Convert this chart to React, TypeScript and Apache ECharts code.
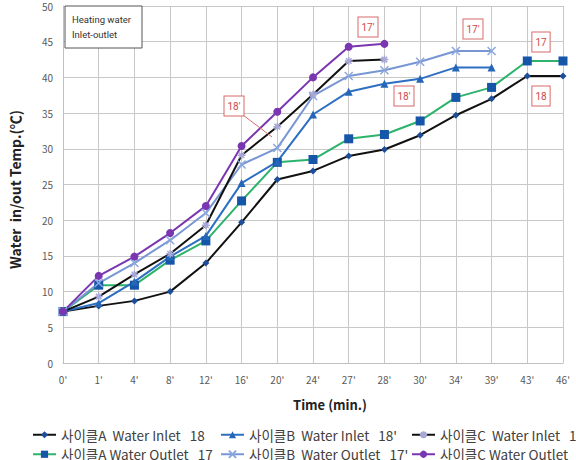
import React, { useEffect, useRef } from "react";
import * as echarts from "echarts";

const categories = ["0'", "1'", "4'", "8'", "12'", "16'", "20'", "24'", "27'", "28'", "30'", "34'", "39'", "43'", "46'"];
const yTicks = { min: 0, max: 50, interval: 5 };

const inletA = [7.2, 8.0, 8.7, 10.0, 14.0, 19.7, 25.7, 26.9, 29.0, 29.9, 31.9, 34.7, 37.0, 40.2, 40.2];
const outletA = [7.2, 10.9, 10.9, 14.4, 17.1, 22.7, 28.1, 28.5, 31.4, 32.0, 33.9, 37.2, 38.6, 42.3, 42.3];
const inletB = [7.2, 8.4, 11.4, 14.9, 17.8, 25.2, 28.2, 34.8, 38.0, 39.1, 39.8, 41.4, 41.4, null, null];
const outletB = [7.2, 11.2, 14.0, 17.2, 21.0, 27.8, 30.1, 37.4, 40.2, 41.0, 42.2, 43.7, 43.7, null, null];
const inletC = [7.2, 9.3, 12.4, 15.3, 19.3, 29.1, 33.1, 37.6, 42.3, 42.5, null, null, null, null, null];
const outletC = [7.2, 12.2, 14.9, 18.2, 22.0, 30.4, 35.2, 40.0, 44.3, 44.7, null, null, null, null, null];

const nameAIn = "사이클A  Water Inlet   18";
const nameAOut = "사이클A Water Outlet   17";
const nameBIn = "사이클B  Water Inlet   18'";
const nameBOut = "사이클B  Water Outlet   17'";
const nameCIn = "사이클C  Water Inlet   18'";
const nameCOut = "사이클C Water Outlet   17'";

const annotations = [
  { text: "17'", x: 368, y: 27 },
  { text: "17'", x: 473, y: 29 },
  { text: "18'", x: 404, y: 96 },
  { text: "17", x: 541, y: 42 },
  { text: "18", x: 541, y: 96 },
  { text: "18'", x: 234, y: 106 },
];

const FONT = "'Noto Sans CJK KR', 'Noto Sans', sans-serif";

export default function App() {
  const ref = useRef<HTMLDivElement>(null);
  useEffect(() => {
    if (!ref.current) return;
    const chart = echarts.init(ref.current, undefined, { renderer: "svg" });
    const legendCommon = {
      orient: "vertical",
      itemWidth: 23,
      itemHeight: 9,
      itemGap: 6,
      width: 400,
      height: 80,
      padding: 0,
      textStyle: { fontSize: 13.5, color: "#404040", fontFamily: FONT },
    };
    const mk = (name: string, data: (number | null)[], lineColor: string, symbol: string, symColor: string, size: number, stroke?: boolean) => ({
      name,
      type: "line",
      data,
      symbol,
      symbolSize: size,
      lineStyle: { color: lineColor, width: 2 },
      itemStyle: stroke
        ? { color: "rgba(0,0,0,0)", borderColor: symColor, borderWidth: 1.5 }
        : { color: symColor, borderColor: symColor, borderWidth: 0 },
      color: lineColor,
      connectNulls: false,
    });
    chart.setOption({
      animation: false,
      backgroundColor: "#ffffff",
      textStyle: { fontFamily: FONT },
      grid: { left: 63, right: 13, top: 6, bottom: 97 },
      legend: [
        { ...legendCommon, left: 32, top: 428, data: [nameAIn, nameAOut] },
        { ...legendCommon, left: 220, top: 428, data: [nameBIn, nameBOut] },
        { ...legendCommon, left: 411, top: 428, data: [nameCIn, nameCOut] },
      ],
      xAxis: {
        type: "category",
        data: categories,
        boundaryGap: false,
        axisLine: { lineStyle: { color: "#c0c0c0" } },
        axisTick: { show: false },
        axisLabel: { color: "#595959", fontSize: 10, margin: 11 },
        splitLine: { show: true, lineStyle: { color: "#c8c8c8", width: 1 } },
        name: "Time (min.)",
        nameLocation: "middle",
        nameGap: 35,
        nameTextStyle: { fontSize: 13, fontWeight: "bold", color: "#222", padding: [0, 0, 0, 34] },
      },
      yAxis: {
        type: "value",
        min: yTicks.min,
        max: yTicks.max,
        interval: yTicks.interval,
        axisLine: { show: true, lineStyle: { color: "#c0c0c0" } },
        axisTick: { show: false },
        axisLabel: { color: "#595959", fontSize: 10, margin: 10 },
        splitLine: { show: true, lineStyle: { color: "#c8c8c8", width: 1 } },
        name: "Water  in/out Temp.(℃)",
        nameLocation: "middle",
        nameRotate: 90,
        nameGap: 41,
        nameTextStyle: { fontSize: 14, fontWeight: "bold", color: "#222", padding: [0, 10, 0, 0] },
      },
      series: [
        mk(nameAIn, inletA, "#111111", "diamond", "#1f4e99", 7),
        mk(nameAOut, outletA, "#2db36b", "rect", "#1656a8", 9),
        mk(nameBIn, inletB, "#2d6fc2", "triangle", "#2566b8", 8),
        mk(nameBOut, outletB, "#7896d4", "path://M0,0L10,10M10,0L0,10", "#8aa6e0", 8, true),
        mk(nameCIn, inletC, "#111111", "path://M5,0L5,10M0,5L10,5M1.5,1.5L8.5,8.5M8.5,1.5L1.5,8.5", "#a8a8d8", 8, true),
        mk(nameCOut, outletC, "#7a35b0", "circle", "#7a35b0", 8),
      ],
      graphic: [
        {
          type: "rect",
          shape: { x: 65, y: 6, width: 77, height: 42 },
          style: { fill: "#ffffff", stroke: "#555555", lineWidth: 1 },
          z: 100,
        },
        {
          type: "text",
          x: 72,
          y: 19,
          style: { text: "Heating water", font: "9.5px 'Liberation Sans Narrow', Roboto, sans-serif", fill: "#333", verticalAlign: "middle" },
          z: 101,
        },
        {
          type: "text",
          x: 72,
          y: 34,
          style: { text: "Inlet-outlet", font: "9.5px 'Liberation Sans Narrow', Roboto, sans-serif", fill: "#333", verticalAlign: "middle" },
          z: 101,
        },
        {
          type: "line",
          shape: { x1: 243, y1: 115, x2: 272, y2: 137 },
          style: { stroke: "#d86a6a", lineWidth: 1 },
          z: 100,
        },
        ...annotations.map((a) => ({
          type: "text",
          x: a.x,
          y: a.y,
          style: {
            text: a.text,
            font: "10px Roboto, sans-serif",
            fill: "#d04848",
            align: "center",
            verticalAlign: "middle",
            backgroundColor: "#ffffff",
            borderColor: "#d86a6a",
            borderWidth: 1,
            padding: [5, 3, 4, 3],
          },
          z: 101,
        })),
      ],
    } as any);
    return () => chart.dispose();
  }, []);
  return <div ref={ref} style={{ width: 576, height: 460, position: "absolute", left: 0, top: 0 }} />;
}
